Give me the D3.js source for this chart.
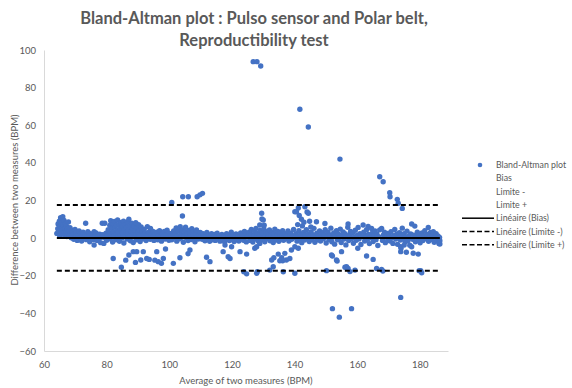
<!DOCTYPE html>
<html><head><meta charset="utf-8">
<script src="https://cdn.jsdelivr.net/npm/d3@7"></script>
<style>body{margin:0;background:#fff;}svg{display:block;}text{font-family:Lato,"Open Sans",sans-serif;}</style>
</head><body>
<script>
// ---- data ----
const titleLines = ["Bland-Altman plot : Pulso sensor and Polar belt,", "Reproductibility test"];
const xTicks = [60, 80, 100, 120, 140, 160, 180];
const yTicks = [-60, -40, -20, 0, 20, 40, 60, 80, 100];
const xTitle = "Average of two measures (BPM)";
const yTitle = "Difference between two measures (BPM)";
const legendLabels = ["Bland-Altman plot", "Bias", "Limite -", "Limite +", "Linéaire (Bias)", "Linéaire (Limite -)", "Linéaire (Limite +)"];
const bias = 0.1;
const lowerLimit = -17.4;
const upperLimit = 17.6;
// [average BPM, difference BPM]
const bandPoints = [
[64.1,2.5],[64.4,5],[64.5,7.5],[64.7,3.8],[64.9,9],[65.0,1.2],[65.1,6.2],[65.3,10.8],[65.4,4.4],[65.6,8.1],[65.7,2.2],[65.9,5.6],[66.0,11.4],[66.1,7],[66.3,3.1],[66.4,9.4],[66.6,1.5],[66.7,5],[66.9,7.8],[67.0,3.6],[67.2,6.4],[67.3,0.8],[67.5,4.7],[67.6,2.4],[67.8,8.6],[68.0,3.9],[68.1,1.1],[68.3,5.6],[68.5,2.8],[68.7,0.2],[68.9,4.2],[69.1,1.8],[69.3,3.3],[69.5,-0.6],[69.7,2.1],[69.9,4.6],[70.2,0.9],[70.4,2.9],[70.6,-1.2],
[70.9,1.7],[71.2,3.8],[71.4,0.3],[71.7,2.5],[72.0,-1.5],[72.2,1.2],[72.5,3.1],[72.8,0.1],[73.0,2],[73.3,7.9],[73.5,-0.8],[73.8,1.4],[74.0,3.4],[74.3,0.6],[74.6,-1.9],[74.9,2.3],[75.2,0.2],[75.5,1.6],[75.8,-0.9],[76.0,3.4],[76.0,-3.7],[76.3,0.8],[76.6,2.7],[76.9,-1.3],[77.2,1],[77.5,-0.3],[77.8,2.1],[78.1,-2.4],[78.4,0.5],[78.6,7.9],[78.8,1.8],[79.1,-2.8],[79.4,7.9],[79.5,0.2],[79.8,2.6],[80.0,-1.1],
[80.3,1.4],[80.5,4.5],[80.8,-0.4],[81.0,6.8],[81.2,2.6],[81.3,9.2],[81.5,0.3],[81.7,5.1],[81.9,-2.1],[82.0,7.8],[82.2,3.2],[82.4,1],[82.5,8.9],[82.7,5.8],[82.9,-0.9],[83.0,2.3],[83.2,6.9],[83.3,4.1],[83.5,9.6],[83.6,0.6],[83.8,3.4],[84.0,7.4],[84.1,-1.7],[84.3,5.3],[84.4,1.9],[84.6,8.3],[84.8,3.8],[84.9,0.1],[85.1,6.1],[85.2,2.7],[85.4,9],[85.5,-2.6],[85.7,4.6],[85.9,1.2],[86.0,7.1],[86.2,3],[86.3,5.7],[86.5,-0.5],[86.7,8.6],[86.8,2.2],[87.0,4.4],[87.1,10],[87.3,0.9],[87.5,6.5],[87.6,-1.4],[87.8,3.6],[88.0,7.9],[88.1,1.6],[88.3,5],[88.5,-2.3],[88.6,2.8],[88.8,6.3],[89.0,0.4],[89.1,4.1],[89.3,8.2],[89.5,1.9],[89.6,-0.9],[89.8,5.4],[90.0,3.1],[90.2,7.1],[90.3,0.7],[90.5,4.3],[90.7,-1.8],[90.9,2.4],[91.0,6],[91.2,1.1],[91.4,3.6],[91.6,-0.4],[91.8,2],[92.0,4.8],[92.2,0.2],[92.4,2.9],[92.6,-1.3],[92.8,1.5],
[93.0,6.1],[94.0,5.2],[93.3,1],[93.6,3.3],[93.9,-0.6],[94.2,2.1],[94.5,0.4],[94.8,3.6],[95.1,-1.2],[95.4,1.7],[95.7,0.1],[96.0,3.2],[96.3,-0.9],[96.6,1.4],[96.9,4],[97.2,0.5],[97.5,-1.6],[97.8,2.2],[98.1,0.9],[98.4,3.6],[98.7,-0.5],[99.0,1.8],[99.3,4.2],[99.6,0.3],[99.9,-1.1],
[100.2,2.5],[100.5,0.8],[100.8,-0.9],[101.1,1.9],[101.4,3.8],[101.7,0.2],[102.0,2.9],[102.2,5.4],[102.4,-1.6],[102.7,1.2],[103.0,3.7],[103.2,-0.4],[103.5,6.1],[103.7,2.1],[104.0,0.5],[104.2,4.4],[104.5,-2.2],[104.7,1.6],[105.0,3.3],[105.2,5.8],[105.5,0.1],[105.7,2.5],[106.0,-1.3],[106.2,4.1],[106.5,1],[106.7,2.9],[107.0,-0.7],[107.2,5],[107.5,1.8],[107.7,3.6],[108.0,0.3],[108.2,-1.9],[108.5,2.2],[108.7,4.3],[109.0,0.9],[109.3,-0.5],[109.6,1.7],[109.9,3],
[110.2,1.2],[110.5,-0.6],[110.8,2.4],[111.1,0.3],[111.4,-1.4],[111.7,1.5],[112.0,3],[112.3,-0.2],[112.6,1.1],[112.9,-1.7],[113.2,0.6],[113.5,2.3],[113.8,-0.9],[114.1,0.4],[114.4,1.9],[114.7,-1.2],[115.0,0.8],[115.3,2.6],[115.6,-0.3],[115.9,1.3],[116.2,-1.6],[116.5,0.2],[116.8,2],[117.1,-0.8],[117.4,1],[117.7,-2.1],[118.0,0.5],[118.3,2.4],[118.6,-0.4],[118.9,1.4],[119.2,-1.3],[119.5,0.7],[119.8,3.2],[120.1,-0.2],[120.4,1.6],[120.7,-1.8],[121.0,0.3],[121.3,2.2],[121.6,-0.7],[121.9,1.1],[122.2,-1.5],[122.5,0.6],[122.8,2.8],[123.1,-0.1],[123.4,1.5],[123.7,-1.1],[124.0,3.6],[124.3,0.4],[124.6,-2],[124.9,1.8],
[125.2,0.9],[125.5,3.1],[125.7,-1.2],[126.0,2],[126.2,4.6],[126.5,0.2],[126.7,-2.1],[127.0,1.4],[127.2,3.7],[127.5,-0.5],[127.7,5.2],[128.0,1],[128.2,2.6],[128.5,-1.6],[128.7,0.5],[129.0,4.1],[129.2,1.8],[129.5,-0.8],[129.7,2.9],[130.0,0.1],[130.2,5],[130.5,-1.9],[130.7,1.3],[131.0,3.4],[131.2,-0.3],[131.5,2.2],[131.7,0.7],[132.0,4.4],[132.2,-1.4],[132.5,1.6],[132.7,3],[133.0,0],[133.2,-2.3],[133.5,2.5],[133.7,4.8],[134.0,0.8],[134.2,-0.9],[134.5,1.9],[134.7,3.5],[135.0,-1.7],[135.2,0.4],[135.5,2.7],[135.7,-0.4],[136.0,1.2],[136.2,4],[136.5,-1.1],[136.7,0.6],[137.0,2.3],[137.3,-0.2],[137.6,1.5],[137.9,3.8],[138.2,-1.5],[138.5,0.9],[138.8,2.6],[139.1,-0.6],[139.4,1.3],[139.7,4.6],
[140.2,0.3],[140.5,2.4],[140.8,-1.6],[141.1,1],[141.4,3.9],[141.7,-0.5],[142.0,1.8],[142.3,-2.4],[142.6,0.7],[142.9,3],[143.2,-1],[143.5,1.5],[143.8,4.5],[144.1,-0.2],[144.4,2.2],[144.7,-1.8],[145.0,0.9],[145.3,3.3],[145.6,-0.7],[145.9,1.7],[146.2,5.2],[146.5,-2.2],[146.8,0.4],[147.0,8.7],[147.1,2.6],[147.4,-0.9],[147.7,1.3],[148.0,3.8],[148.3,-1.5],[148.6,0.6],[148.9,2.9],[149.2,-0.3],[149.5,1.9],[149.7,7.8],[149.8,4.5],
[150.1,-2.6],[150.4,0.8],[150.7,3.1],[151.0,-0.7],[151.3,1.6],[151.6,5.3],[151.9,-1.9],[152.2,0.4],[152.5,2.7],[152.8,-3.2],[153.1,1.2],[153.4,3.9],[153.7,-0.9],[154.0,2.1],[154.3,0],[154.6,4.8],[154.9,-2.3],[155.2,1.4],[155.5,3.3],[155.8,-0.5],[156.1,2.4],[156.4,-3.6],[156.7,0.9],[157.0,5.8],[157.1,7.5],[157.3,-1.3],[157.6,1.9],[157.9,3.6],[158.2,-0.2],[158.5,2.8],[158.8,-2.7],[159.1,0.6],[159.4,4.2],[159.7,-1.1],[160.0,1.5],[160.3,5.7],[160.6,-0.4],[160.9,2.3],[161.2,-3.4],[161.5,0.7],[161.9,7],[162.1,3.1],[162.4,-1.5],[162.7,1.2],[163.0,4.5],[163.3,-0.6],[163.5,6.2],[163.6,2],[163.9,-2.9],[164.2,0.3],[164.6,5.1],[164.8,2.6],[165.1,-1.8],[165.4,1.4],[165.7,3.8],[166.0,-0.8],[166.3,2.2],[166.6,-3.9],[166.9,0.8],[167.2,4.4],[167.8,5.2],[168.1,-1.2],[168.4,1.7],[168.7,3.2],[169.0,-2.4],[169.3,0.5],[169.6,2.5],[169.9,-0.7],
[170.2,1.9],[170.5,-1.5],[170.8,3.4],[171.1,0.2],[171.4,-2.8],[171.7,1.3],[172.0,4.6],[172.3,-0.5],[172.6,2.1],[172.9,-3.3],[173.2,0.9],[173.5,2.9],[173.8,-1],[174.1,1.6],[174.4,5.3],[174.7,-0.3],[175.0,2.4],[175.3,-2],[175.6,0.6],[175.9,3.7],[176.2,-1.4],[176.5,1],[176.8,-3.8],[177.1,2.2],[177.4,7.5],[177.7,-0.6],[178.0,1.6],[178.4,6.4],[178.6,-1.9],[178.9,0.8],[179.2,3.1],[179.5,-0.9],[179.8,1.9],[180.1,-2.5],[180.4,0.4],[180.7,2.7],[181.0,-1.3],[181.3,1.2],[181.6,4],[181.9,-0.2],[182.2,2],[182.7,5.7],[182.8,-1.7],[183.1,0.9],[183.4,3],[183.7,-0.7],[184.0,1.5],[184.3,3.4],[184.6,-2.2],[184.9,0.5],[185.2,2.3],[185.5,-1.1],[185.8,1.1],[186.1,-2.9],[186.2,-1.9],[186.3,0.3],[186.4,-3.1],[186.4,-1.4]
];
const scatteredPoints = [
[82.1,-10.8],[84.7,-15.5],[86.1,-11.7],[87.1,-9],[88.5,-7.2],[89.6,-7.2],[91.7,-7.2],[90.9,-11.6],[89.2,-12.9],[92.8,-10.8],[93.6,-11.3],[95.4,-11.7],[96.0,-7.2],[96.5,-12.5],[97.5,-13.4],[98.1,-10.8],[98.8,-5.8],
[100.8,19],[104.3,22],[106.1,22],[108.9,22],[109.8,23],[110.6,23.8],[104.2,11.8],
[101.3,-13.4],[103.4,-10.4],[106.0,-8.3],[106.6,-6.3],[111.9,-10.2],[113.0,-12.5],[117.2,-7.2],[117.8,-3.7],[118.8,-9.9],[119.4,-10.8],[119.9,-4.6],[122.6,-7.2],[124.7,-8.5],[123.8,-17.9],[124.7,-19],
[129.5,13.2],[129.6,10.2],[130.0,9.6],[128.9,7],[130.3,6.9],
[127.3,-5.4],[127.9,-4.6],[128.9,-2.8],[132.7,-11.6],[133.4,-10.4],[133.2,-15.2],[134.8,-8.5],[135.3,-12],[136.2,-12],[135.9,-10.4],[136.9,-8.1],[137.4,-11.6],[138.5,-10.8],[139.0,-6.3],[140.1,-4.6],[141.2,-5.4],[128.1,-17.9],[127.9,-18.7],[132.1,-17],[136.4,-17.9],[140.1,-18.7],
[140.1,14],[140.6,14],[141.2,16],[141.5,12],[142.2,10],[143.3,16.7],[144.0,13.9],[144.4,13.2],[143.0,8.5],[142.5,6.5],[141.0,7.2],[144.8,9],[145.2,6],
[151.8,-9],[152.1,-9.5],[153.4,-11.6],[153.6,-12.2],[155.0,-7.2],[156.1,-15.5],[156.6,-15.2],[157.1,-16.1],[157.7,-17.8],[159.3,-17],[150.2,-17.3],[163.0,-9.5],[165.1,-11.3],[166.2,-16.1],[167.8,-16.6],[168.2,-17.5],[160.2,-5.4],
[173.9,-4.6],[174.0,-5.4],[175.0,-3.7],[177.4,-4.6],[173.9,-7.2],[175.7,-7.5],[177.9,-8],[179.5,-8.5],[180.3,-17.3],[180.6,-18.4],[179.8,-17.3],
[167.2,32.6],[168.3,30],[170.4,24.1],[170.5,22],[172.8,20.6],[173.1,18.5],[174.4,15.8]
];
const outlierPoints = [
[126.8,93.8],[128.0,93.8],[129.2,91.5],[141.7,68.5],[144.4,59.1],[154.5,42],
[152.1,-37.5],[154.3,-42],[158.2,-37.5],[173.9,-31.5]
];

// ---- drawing ----
const W = 572, H = 388;
const svg = d3.select("body").append("svg").attr("width", W).attr("height", H);
const x = d3.scaleLinear().domain([60, 189]).range([44, 448]);
const y = d3.scaleLinear().domain([-60, 100]).range([351, 50]);
const grey = "#595959", axisGrey = "#d9d9d9", blue = "#4472C4";
const allPoints = bandPoints.concat(scatteredPoints, outlierPoints);

// title
svg.append("g").selectAll("text").data(titleLines).join("text")
  .attr("x", 254).attr("y", (d, i) => 24 + i * 22)
  .attr("text-anchor", "middle").attr("fill", grey)
  .attr("font-size", 16.5).attr("font-weight", "bold").text(d => d);

// axes
const xAxis = svg.append("g").attr("transform", `translate(0,${y(-60)})`)
  .call(d3.axisBottom(x).tickValues(xTicks).tickSize(0).tickPadding(10));
const yAxis = svg.append("g").attr("transform", `translate(${x(60)},0)`)
  .call(d3.axisLeft(y).tickValues(yTicks).tickSize(0).tickPadding(8));
[xAxis, yAxis].forEach(g => {
  g.select(".domain").attr("stroke", axisGrey).attr("stroke-width", 1);
  g.selectAll("text").attr("fill", grey).attr("font-size", 9.5).attr("font-family", "Lato, sans-serif");
});

svg.append("text").attr("x", 246).attr("y", 384).attr("text-anchor", "middle")
  .attr("fill", grey).attr("font-size", 9.5).text(xTitle);
svg.append("text").attr("transform", `translate(18,${200}) rotate(-90)`).attr("text-anchor", "middle")
  .attr("fill", grey).attr("font-size", 9.5).text(yTitle);

// points
svg.append("g").selectAll("circle").data(allPoints).join("circle")
  .attr("cx", d => x(d[0])).attr("cy", d => y(d[1])).attr("r", 2.7).attr("fill", blue);

// trend lines
const ext = d3.extent(allPoints, d => d[0]);
const lines = [
  { v: bias, dash: null },
  { v: lowerLimit, dash: "5,3" },
  { v: upperLimit, dash: "5,3" }
];
svg.append("g").selectAll("line").data(lines).join("line")
  .attr("x1", x(ext[0])).attr("x2", x(ext[1]))
  .attr("y1", d => y(d.v)).attr("y2", d => y(d.v))
  .attr("stroke", "#000").attr("stroke-width", 2)
  .attr("stroke-dasharray", d => d.dash);

// legend
const lg = svg.append("g");
const ly = i => 165 + i * 13.3;
lg.selectAll("text").data(legendLabels).join("text")
  .attr("x", 496).attr("y", (d, i) => ly(i) + 3).attr("fill", grey).attr("font-size", 8.8).text(d => d);
lg.append("circle").attr("cx", 480).attr("cy", ly(0)).attr("r", 2.3).attr("fill", blue);
lg.selectAll("line").data(lines).join("line")
  .attr("x1", 462).attr("x2", 494).attr("y1", (d, i) => ly(4 + i)).attr("y2", (d, i) => ly(4 + i))
  .attr("stroke", "#000").attr("stroke-width", 1.5).attr("stroke-dasharray", d => d.dash ? "5,2.5" : null);
</script>
</body></html>
